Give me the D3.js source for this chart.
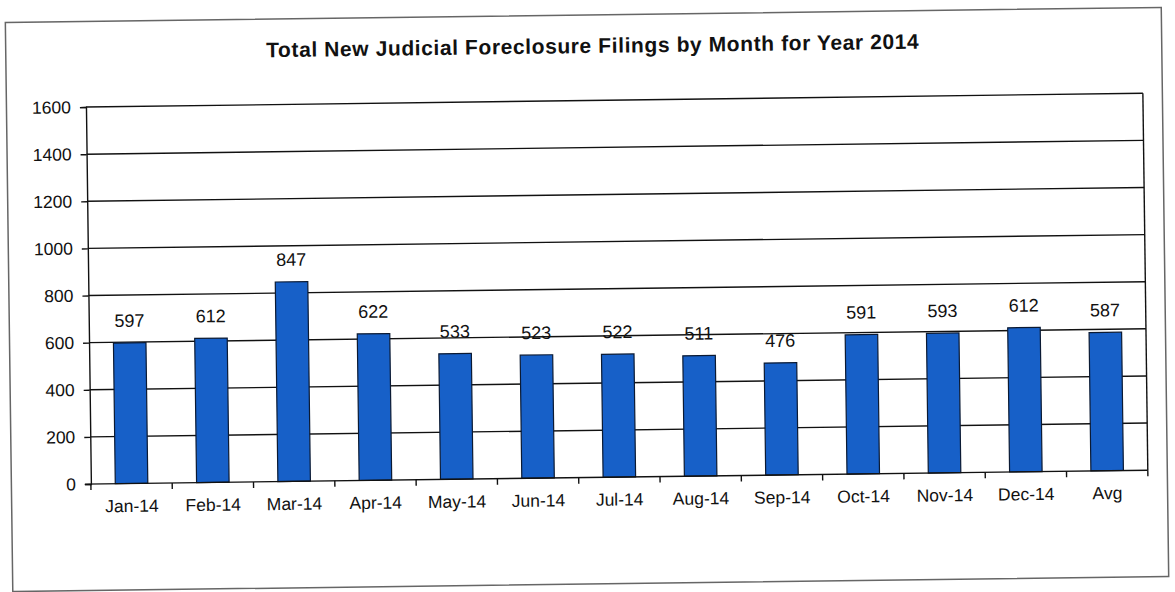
<!DOCTYPE html>
<html>
<head>
<meta charset="utf-8">
<script src="https://cdn.jsdelivr.net/npm/d3@7"></script>
<style>
  html, body { margin: 0; padding: 0; background: #fff; }
  svg { display: block; }
  text { font-family: "Liberation Sans", Arial, sans-serif; fill: #111; }
</style>
</head>
<body>
<svg id="chart" width="1175" height="592"></svg>
<script>
// Monthly filings plus the yearly average
const categories = ["Jan-14", "Feb-14", "Mar-14", "Apr-14", "May-14", "Jun-14",
                    "Jul-14", "Aug-14", "Sep-14", "Oct-14", "Nov-14", "Dec-14", "Avg"];
const filings = [597, 612, 847, 622, 533, 523, 522, 511, 476, 591, 593, 612, 587];
const yTicks = [0, 200, 400, 600, 800, 1000, 1200, 1400, 1600];
const chartTitle = "Total New Judicial Foreclosure Filings by Month for Year 2014";

const W = 1175, H = 592;
const frame = { x: 9, y: 15, w: 1156, h: 569 };
const plot = { left: 88.5, right: 1145.5, top: 100.5, bottom: 477.5 };

const svg = d3.select("#chart");
// the printed page sits slightly askew
const root = svg.append("g").attr("transform", "rotate(-0.75, 588, 298)");

root.append("rect")
  .attr("x", frame.x).attr("y", frame.y)
  .attr("width", frame.w).attr("height", frame.h)
  .attr("fill", "#fff").attr("stroke", "#666").attr("stroke-width", 1.5);

root.append("text")
  .attr("x", 596).attr("y", 53)
  .attr("text-anchor", "middle")
  .attr("font-size", 21).attr("font-weight", "bold")
  .attr("letter-spacing", 0.6)
  .text(chartTitle);

const x = d3.scaleBand().domain(categories)
  .range([plot.left, plot.right]).paddingInner(0.6).paddingOuter(0.3);
const y = d3.scaleLinear().domain([0, 1600]).range([plot.bottom, plot.top]);

// horizontal gridlines
root.append("g").selectAll("line").data(yTicks.filter(t => t > 0)).join("line")
  .attr("x1", plot.left).attr("x2", plot.right)
  .attr("y1", d => y(d)).attr("y2", d => y(d))
  .attr("stroke", "#111").attr("stroke-width", 1.4);

// right edge of the plot area
root.append("line")
  .attr("x1", plot.right).attr("x2", plot.right)
  .attr("y1", plot.top).attr("y2", plot.bottom)
  .attr("stroke", "#111").attr("stroke-width", 1.4);

// bars
root.append("g").selectAll("rect").data(filings).join("rect")
  .attr("x", (d, i) => x(categories[i]))
  .attr("y", d => y(d))
  .attr("width", x.bandwidth())
  .attr("height", d => y(0) - y(d))
  .attr("fill", "#1760c8")
  .attr("stroke", "#0b1a33").attr("stroke-width", 1.2);

// value labels
root.append("g").selectAll("text").data(filings).join("text")
  .attr("x", (d, i) => x(categories[i]) + x.bandwidth() / 2)
  .attr("y", d => y(d) - 16)
  .attr("text-anchor", "middle")
  .attr("font-size", 18)
  .text(d => d);

// y axis
const yAxis = d3.axisLeft(y).tickValues(yTicks).tickSize(6).tickPadding(9)
  .tickFormat(d3.format("d"));
const gy = root.append("g").attr("transform", `translate(${plot.left},0)`).call(yAxis);
gy.select(".domain").attr("stroke", "#111").attr("stroke-width", 1.4);
gy.selectAll(".tick line").attr("stroke", "#111").attr("stroke-width", 1.4);
gy.selectAll(".tick text").attr("font-size", 17.5).attr("fill", "#111")
  .attr("font-family", "Liberation Sans, Arial, sans-serif");

// x axis: labels centred on categories, tick marks between them
const boundaries = d3.range(categories.length + 1).map(i => plot.left + i * (plot.right - plot.left) / categories.length);
const xAxis = d3.axisBottom(x).tickSize(0).tickPadding(16);
const gx = root.append("g").attr("transform", `translate(0,${plot.bottom})`).call(xAxis);
gx.select(".domain").remove();
gx.selectAll(".tick text").attr("font-size", 17.5).attr("fill", "#111")
  .attr("font-family", "Liberation Sans, Arial, sans-serif");

root.append("line")
  .attr("x1", plot.left - 6).attr("x2", plot.right)
  .attr("y1", plot.bottom).attr("y2", plot.bottom)
  .attr("stroke", "#111").attr("stroke-width", 1.4);

root.append("g").selectAll("line").data(boundaries).join("line")
  .attr("x1", d => d).attr("x2", d => d)
  .attr("y1", plot.bottom).attr("y2", plot.bottom + 6)
  .attr("stroke", "#111").attr("stroke-width", 1.4);
</script>
</body>
</html>
